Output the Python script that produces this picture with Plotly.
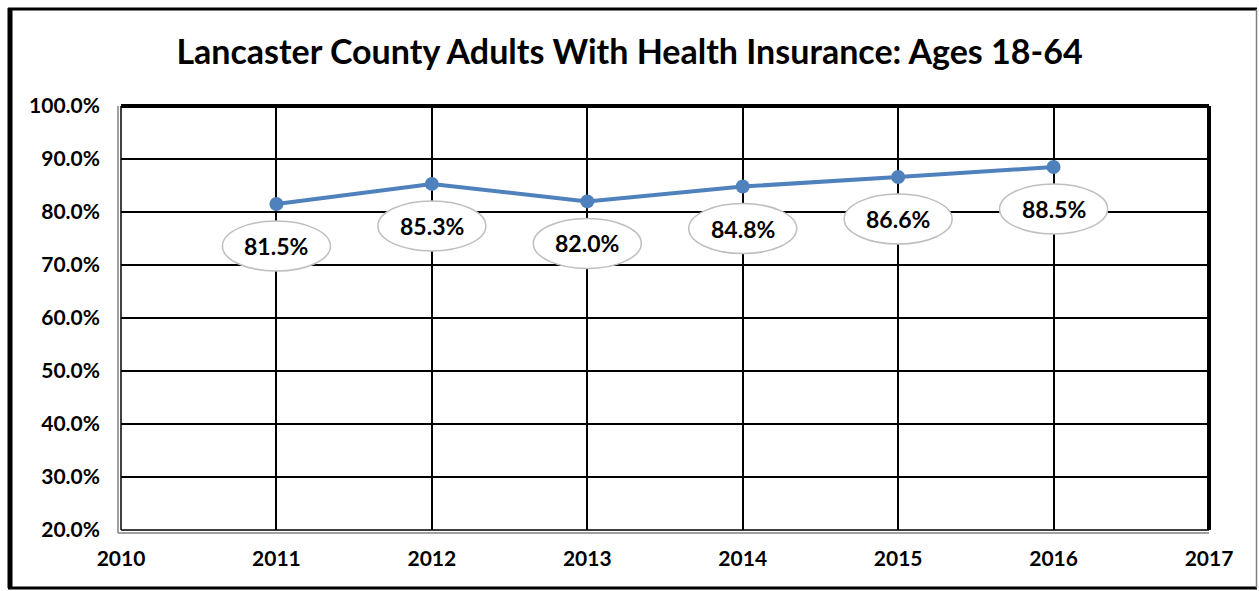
import plotly.graph_objects as go

years = [2011, 2012, 2013, 2014, 2015, 2016]
values = [81.5, 85.3, 82.0, 84.8, 86.6, 88.5]
labels = ["81.5%", "85.3%", "82.0%", "84.8%", "86.6%", "88.5%"]
x_ticks = [2010, 2011, 2012, 2013, 2014, 2015, 2016, 2017]
y_ticks = [20, 30, 40, 50, 60, 70, 80, 90, 100]
y_tick_text = ["20.0%", "30.0%", "40.0%", "50.0%", "60.0%", "70.0%", "80.0%", "90.0%", "100.0%"]
title = "Lancaster County Adults With Health Insurance: Ages 18-64"

W, H = 1259, 591
ml, mr, mt, mb = 121, 50, 106, 61
pw, ph = W - ml - mr, H - mt - mb

def px(x):
    return (x - ml) / pw

def py(y):
    return (H - mb - y) / ph

fig = go.Figure()
fig.add_trace(go.Scatter(
    x=years, y=values, mode="lines+markers",
    line=dict(color="#4F81BD", width=4),
    marker=dict(color="#4F81BD", size=14),
    hoverinfo="skip", showlegend=False,
))

shapes = []
annotations = []
for yr, v, lab in zip(years, values, labels):
    shapes.append(dict(type="circle", xref="x", yref="y", xsizemode="pixel", ysizemode="pixel",
                       xanchor=yr, yanchor=v, x0=-54, x1=54, y0=-67, y1=-17,
                       line=dict(color="#BFBFBF", width=1.5), fillcolor="white", layer="above"))
    annotations.append(dict(x=yr, y=v, xref="x", yref="y", text=lab, showarrow=False, yshift=-42,
                            font=dict(family="Lato", size=23, color="black", weight="bold")))

# plot area border: thick top and right, double left/bottom
shapes += [
    dict(type="line", xref="paper", yref="paper", x0=0, x1=1, y0=1, y1=1, line=dict(color="black", width=4)),
    dict(type="line", xref="paper", yref="paper", x0=1, x1=1, y0=0, y1=1, line=dict(color="black", width=4)),
    dict(type="line", xref="paper", yref="paper", x0=0, x1=0, y0=0, y1=1, line=dict(color="black", width=1.5)),
    dict(type="line", xref="paper", yref="paper", x0=0, x1=1, y0=0, y1=0, line=dict(color="black", width=1.5)),
    dict(type="line", xref="paper", yref="paper", x0=px(118), x1=px(118), y0=py(533), y1=1, line=dict(color="#808080", width=1.5)),
    dict(type="line", xref="paper", yref="paper", x0=px(118), x1=1, y0=py(533), y1=py(533), line=dict(color="#808080", width=1.5)),
]
# outer frame
shapes += [
    dict(type="line", xref="paper", yref="paper", x0=px(10), x1=px(10), y0=py(588), y1=py(8), line=dict(color="black", width=5)),
    dict(type="line", xref="paper", yref="paper", x0=px(8), x1=px(1257), y0=py(9), y1=py(9), line=dict(color="black", width=3)),
    dict(type="line", xref="paper", yref="paper", x0=px(8), x1=px(1257), y0=py(588), y1=py(588), line=dict(color="black", width=3)),
    dict(type="line", xref="paper", yref="paper", x0=px(1256.5), x1=px(1256.5), y0=py(588), y1=py(9), line=dict(color="#7F7F7F", width=1.5)),
]

fig.update_layout(
    width=W, height=H,
    margin=dict(l=ml, r=mr, t=mt, b=mb),
    paper_bgcolor="white", plot_bgcolor="white",
    title=dict(text=title, x=0.5, xanchor="center", y=1 - 52 / H, yanchor="middle",
               font=dict(family="Lato", size=34, color="black", weight="bold")),
    xaxis=dict(range=[2010, 2017], tickvals=x_ticks, ticktext=[str(t) for t in x_ticks],
               showgrid=True, gridcolor="black", gridwidth=1.5, zeroline=False, ticks="",
               tickfont=dict(family="Lato", size=21, color="black", weight="bold"), ticklabelstandoff=14),
    yaxis=dict(range=[20, 100], tickvals=y_ticks, ticktext=y_tick_text,
               showgrid=True, gridcolor="black", gridwidth=1.5, zeroline=False, ticks="",
               tickfont=dict(family="Lato", size=21, color="black", weight="bold"), ticklabelstandoff=20),
    shapes=shapes, annotations=annotations,
)

fig.write_html("out.html")
